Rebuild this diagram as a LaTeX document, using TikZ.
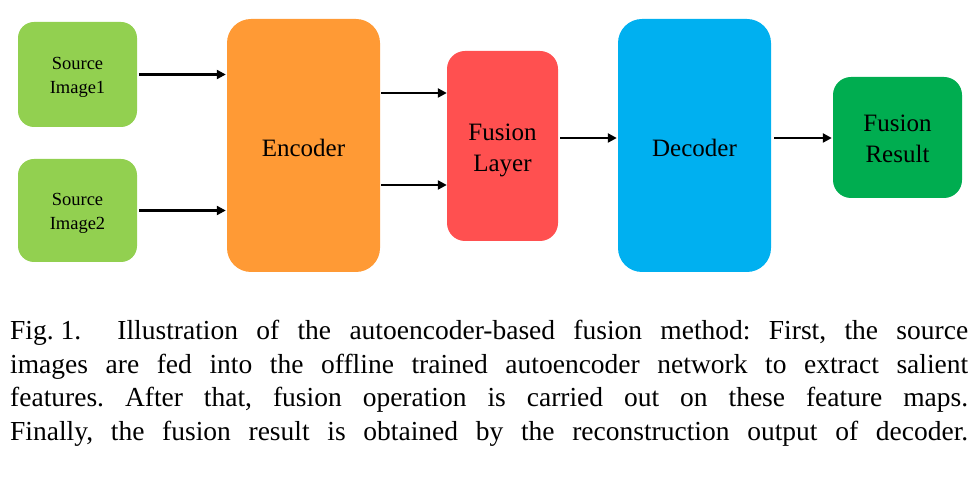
\documentclass[tikz,border=0pt]{standalone}
\usepackage{fontspec}
\setmainfont{Liberation Serif}
\usetikzlibrary{arrows.meta,calc}
\definecolor{srcgreen}{HTML}{92D050}
\definecolor{encorange}{HTML}{FF9A35}
\definecolor{fusred}{HTML}{FF5050}
\definecolor{decblue}{HTML}{00B0F0}
\definecolor{resgreen}{HTML}{00AD50}
\tikzset{
  blk/.style={rounded corners=16pt, inner sep=0pt},
  txt/.style={inner sep=0pt, align=center, text=black},
  conn/.style={line width=2.8pt, -{Triangle[length=9pt,width=9pt]}},
  srcfont/.style={font=\fontsize{18.5}{24}\selectfont},
  bigfont/.style={font=\fontsize{25}{31}\selectfont},
  capline/.style={anchor=base west, inner sep=0pt, font=\fontsize{27.5}{33}\selectfont}
}
\begin{document}
\begin{tikzpicture}[x=1pt,y=-1pt]
\useasboundingbox (0,0) rectangle (980,478);
\node[blk, fill=srcgreen, minimum width=119pt, minimum height=105pt] (s1) at (77.5,74.5) {};
\node[blk, fill=srcgreen, minimum width=119pt, minimum height=103pt] (s2) at (77.5,210.5) {};
\node[blk, fill=encorange, rounded corners=24pt, minimum width=153pt, minimum height=253pt] (enc) at (303.5,145.5) {};
\node[blk, fill=fusred, rounded corners=18pt, minimum width=111pt, minimum height=190pt] (fus) at (502.5,146) {};
\node[blk, fill=decblue, rounded corners=24pt, minimum width=153pt, minimum height=253pt] (dec) at (694.5,145.5) {};
\node[blk, fill=resgreen, rounded corners=18pt, minimum width=129pt, minimum height=121pt] (res) at (897.5,137.5) {};

\node[txt, srcfont, yshift=-2.5pt] (s1t) at (s1) {Source\\Image1};
\node[txt, srcfont, yshift=-3pt] (s2t) at (s2) {Source\\Image2};
\node[txt, bigfont, yshift=-2pt] (enct) at (enc) {Encoder};
\node[txt, bigfont, yshift=-4.5pt] (fust) at (fus) {Fusion\\Layer};
\node[txt, bigfont, yshift=-2pt] (dect) at (dec) {Decoder};
\node[txt, bigfont, yshift=-1.5pt] (rest) at (res) {Fusion\\Result};

\coordinate (a1) at (0,93);
\coordinate (a2) at (0,185);
\coordinate (a3) at (0,138);
\draw[conn, shorten >=1pt] ([xshift=2pt]s1.east) -- (s1.east -| enc.west);
\draw[conn, shorten >=1pt] ([xshift=2pt]s2.east) -- (s2.east -| enc.west);
\draw[conn] ([xshift=1pt]enc.east |- a1) -- (fus.west |- a1);
\draw[conn] ([xshift=1pt]enc.east |- a2) -- (fus.west |- a2);
\draw[conn, shorten >=1pt] ([xshift=2pt]fus.east |- a3) -- (dec.west |- a3);
\draw[conn, shorten >=1pt] ([xshift=3pt]dec.east |- a3) -- (res.west |- a3);

\node[capline] (c1) at (10,339) {\frenchspacing\hbox to 958pt{Fig.\hspace{7pt}1.\hspace{36pt}Illustration of the autoencoder-based fusion method: First, the source}};
\node[capline] (c2) at (10,373) {\frenchspacing\hbox to 958pt{images are fed into the offline trained autoencoder network to extract salient}};
\node[capline] (c3) at (10,406) {\frenchspacing\hbox to 958pt{features. After that, fusion operation is carried out on these feature maps.}};
\node[capline] (c4) at (10,440) {\frenchspacing\hbox to 958pt{Finally, the fusion result is obtained by the reconstruction output of decoder.}};
\end{tikzpicture}
\end{document}
